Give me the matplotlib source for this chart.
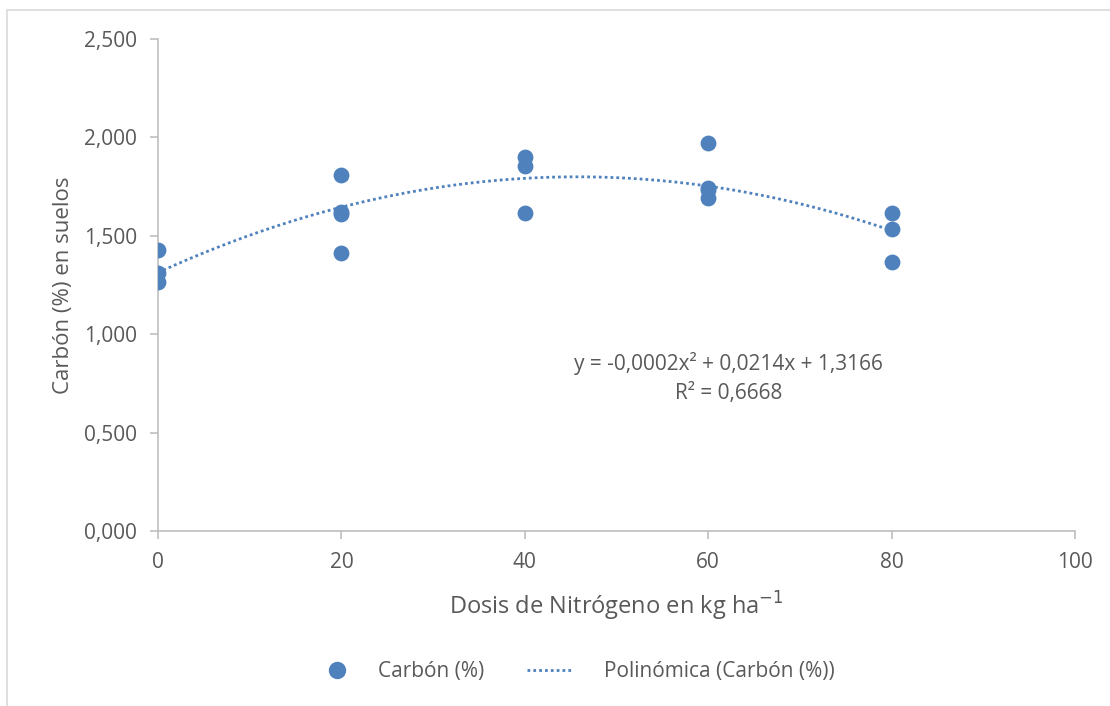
import numpy as np
import matplotlib
matplotlib.use("Agg")
import matplotlib.pyplot as plt
from matplotlib.lines import Line2D
from matplotlib.patches import Rectangle
from matplotlib.ticker import FuncFormatter, MultipleLocator

plt.rcParams['font.family'] = ['Open Sans', 'DejaVu Sans']

dosis = [0, 0, 0, 20, 20, 20, 20, 40, 40, 40, 60, 60, 60, 60, 80, 80, 80]
carbon = [1.428, 1.311, 1.265, 1.809, 1.622, 1.610, 1.413,
          1.902, 1.855, 1.617, 1.973, 1.745, 1.732, 1.691,
          1.617, 1.533, 1.365]

eq_text = "y = -0,0002x² + 0,0214x + 1,3166"
r2_text = "R² = 0,6668"

blue = '#4F81BD'
txt = '#595959'
grey = '#BFBFBF'
dots = (0, (1, 1.1))

fig = plt.figure(figsize=(11.1, 7.06), dpi=100)
fig.patches.append(Rectangle((7/1110, -0.01), 1.0, 1 - 10/706 + 0.01,
                             transform=fig.transFigure, fill=False,
                             edgecolor='#D9D9D9', linewidth=1.2))
ax = fig.add_axes([158/1110, 1 - 531/706, (1075 - 158)/1110, (531 - 39)/706])

ax.scatter(dosis, carbon, s=130, color=blue, zorder=3, linewidths=0)

coef = np.polyfit(dosis, carbon, 2)
xs = np.linspace(min(dosis), max(dosis), 300)
ax.plot(xs, np.polyval(coef, xs), linestyle=dots, color=blue,
        linewidth=2.0, zorder=2)

ax.set_xlim(0, 100)
ax.set_ylim(0, 2.5)
ax.xaxis.set_major_locator(MultipleLocator(20))
ax.yaxis.set_major_locator(MultipleLocator(0.5))
ax.yaxis.set_major_formatter(FuncFormatter(lambda v, p: f"{v:.3f}".replace('.', ',')))

for s in ['top', 'right']:
    ax.spines[s].set_visible(False)
for s in ['left', 'bottom']:
    ax.spines[s].set_color(grey)
    ax.spines[s].set_linewidth(1.2)
ax.tick_params(axis='both', colors=grey, length=6, width=1.2, labelsize=15,
               labelcolor=txt)
ax.tick_params(axis='y', pad=9)
ax.tick_params(axis='x', pad=9)

ax.set_xlabel("Dosis de Nitrógeno en kg ha$^{-1}$", fontsize=17, color=txt, labelpad=12)
ax.set_ylabel("Carbón (%) en suelos", fontsize=16, color=txt, labelpad=7)

ax.text(62.2, 0.85, eq_text, ha='center', va='center', fontsize=15, color=txt)
ax.text(62.2, 0.70, r2_text, ha='center', va='center', fontsize=15, color=txt)

ly = 1 - 672/706
h1 = Line2D([], [], marker='o', linestyle='none', color=blue, markersize=11.5)
h2 = Line2D([], [], linestyle=dots, color=blue, linewidth=2.0)
leg1 = fig.legend([h1], ["Carbón (%)"], loc='center left',
                  bbox_to_anchor=(326.6/1110, ly), frameon=False, fontsize=15,
                  labelcolor=txt, handlelength=1.0, handletextpad=1.47,
                  borderpad=0, borderaxespad=0)
leg2 = fig.legend([h2], ["Polinómica (Carbón (%))"], loc='center left',
                  bbox_to_anchor=(527/1110, ly), frameon=False, fontsize=15,
                  labelcolor=txt, handlelength=2.16, handletextpad=1.54,
                  borderpad=0, borderaxespad=0)

fig.savefig("out.png", dpi=100)
